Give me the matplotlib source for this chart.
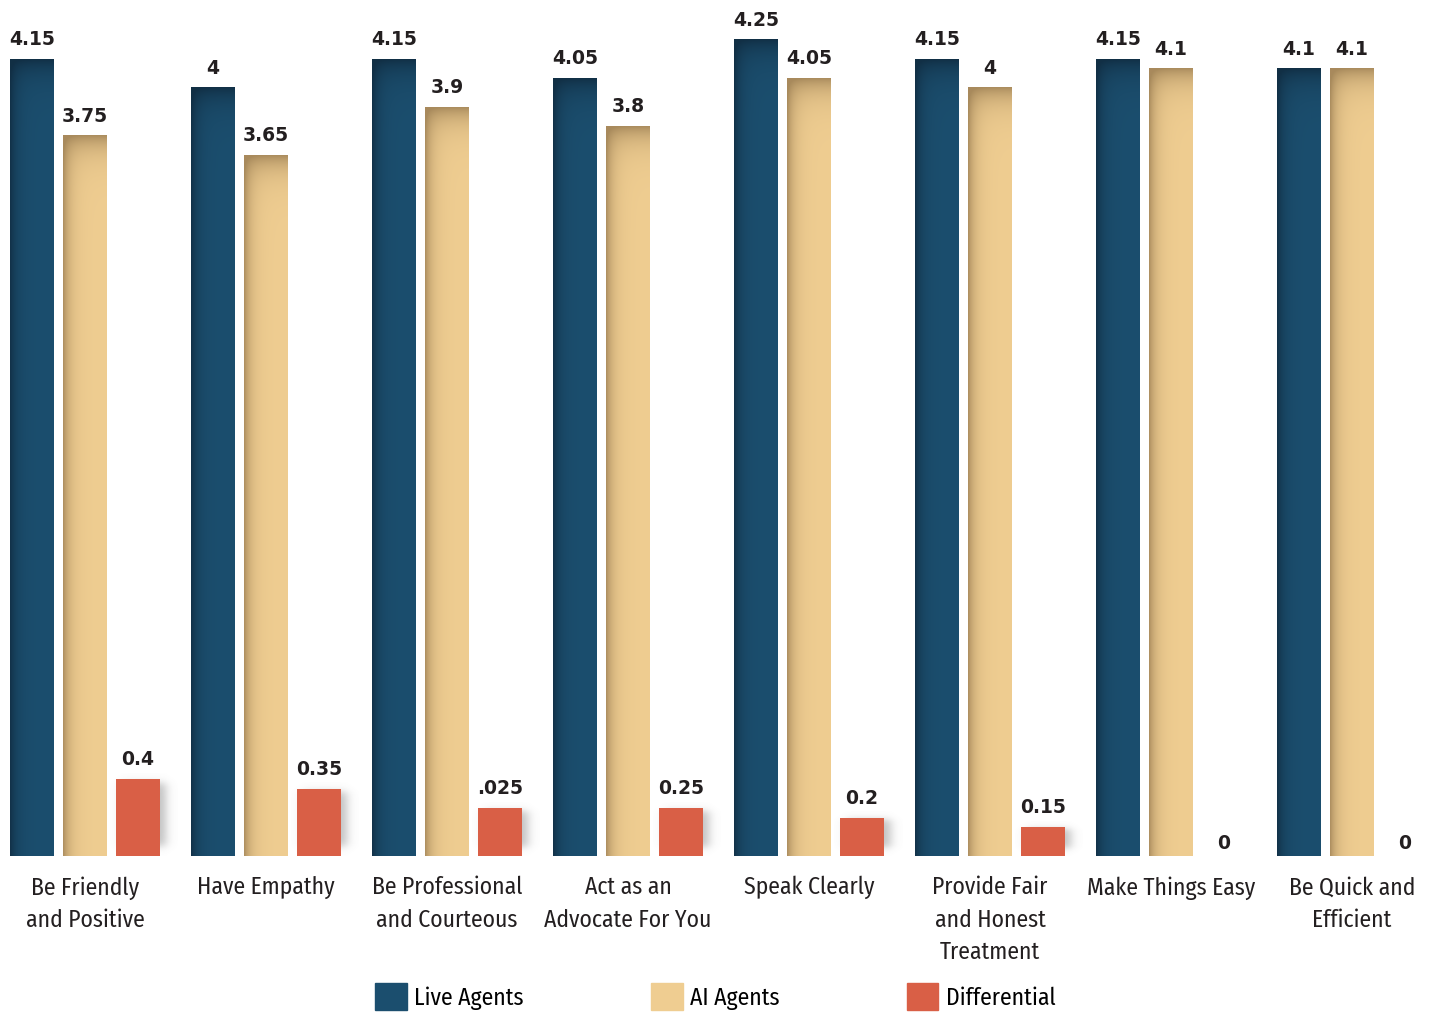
import numpy as np
import matplotlib.pyplot as plt
from matplotlib.patches import Rectangle, Patch
from matplotlib.colors import to_rgb

# Survey averages per behaviour
categories = ["Be Friendly\nand Positive", "Have Empathy", "Be Professional\nand Courteous",
              "Act as an\nAdvocate For You", "Speak Clearly", "Provide Fair\nand Honest\nTreatment",
              "Make Things Easy", "Be Quick and\nEfficient"]
live_agents = [4.15, 4.0, 4.15, 4.05, 4.25, 4.15, 4.15, 4.1]
ai_agents = [3.75, 3.65, 3.9, 3.8, 4.05, 4.0, 4.1, 4.1]
differential = [0.4, 0.35, 0.25, 0.25, 0.2, 0.15, 0.0, 0.0]

live_labels = ["4.15", "4", "4.15", "4.05", "4.25", "4.15", "4.15", "4.1"]
ai_labels = ["3.75", "3.65", "3.9", "3.8", "4.05", "4", "4.1", "4.1"]
diff_labels = ["0.4", "0.35", ".025", "0.25", "0.2", "0.15", "0", "0"]

BLUE = "#1b4e6e"
BEIGE = "#efcd91"
RED = "#d95f46"
TEXT = "#231f20"

W, H, DPI = 14.3, 10.13, 100
PX_PER_UNIT = 192.0      # vertical pixels per score point
STEP_PX = 181.0          # horizontal pixels per category group
BAR_W = 44 / STEP_PX
OFFSET = 53 / STEP_PX

NARROW = ["Fira Sans Condensed", "Roboto Condensed", "IBM Plex Sans Condensed", "DejaVu Sans"]
HEAVY = ["DejaVu Sans"]

fig = plt.figure(figsize=(W, H), dpi=DPI)
base_px = 856
ax = fig.add_axes([0, (H * DPI - base_px) / (H * DPI), 1, base_px / (H * DPI)])
ax.set_xlim(-85 / STEP_PX, (1430 - 85) / STEP_PX)
ax.set_ylim(0, base_px / PX_PER_UNIT)
ax.axis("off")


def shaded_bar(x0, height, color, edge_dark):
    """Fill a bar with a darker fade along its left and top edges."""
    if height <= 0:
        return
    rows = max(int(height * PX_PER_UNIT), 2)
    cols = 44
    base = np.array(to_rgb(color))
    dark = np.array(to_rgb(edge_dark))
    xx = np.arange(cols)[None, :]
    yy = np.arange(rows)[:, None]
    left = np.exp(-xx / 7.0)
    top = np.exp(-yy / 14.0)
    w = np.clip(left * 0.9 + top * 0.95 - left * top * 0.6, 0, 1)
    img = base[None, None, :] * (1 - w[..., None]) + dark[None, None, :] * w[..., None]
    ax.imshow(img, extent=(x0, x0 + BAR_W, 0, height), aspect="auto",
              origin="upper", interpolation="bilinear", zorder=2)


def soft_shadow(x0, height):
    """Blurred grey shadow offset down and to the right."""
    if height <= 0:
        return
    dx = 6 / STEP_PX
    dy = -6 / PX_PER_UNIT
    pad_x = 12 / STEP_PX
    pad_y = 12 / PX_PER_UNIT
    xa, xb = x0 + dx, x0 + BAR_W + dx
    ya, yb = dy, height + dy
    n = 120
    xs = np.linspace(xa - pad_x, xb + pad_x, n)
    ys = np.linspace(ya - pad_y, yb + pad_y, n)
    sx = 3.0 / STEP_PX
    sy = 3.0 / PX_PER_UNIT
    fx = 1 / (1 + np.exp(-(xs - xa) / sx)) * 1 / (1 + np.exp((xs - xb) / sx))
    fy = 1 / (1 + np.exp(-(ys - ya) / sy)) * 1 / (1 + np.exp((ys - yb) / sy))
    alpha = (fy[::-1, None] * fx[None, :]) * 0.45
    img = np.zeros((n, n, 4))
    img[..., :3] = 0.45
    img[..., 3] = alpha
    ax.imshow(img, extent=(xs[0], xs[-1], max(ys[0], 0), ys[-1]), aspect="auto",
              origin="upper", interpolation="bilinear", zorder=1)


val_font = dict(family=HEAVY, weight="bold", fontsize=13.5, color=TEXT)
for i in range(len(categories)):
    xl = i - OFFSET - BAR_W / 2
    xa = i - BAR_W / 2
    xd = i + OFFSET - BAR_W / 2
    shaded_bar(xl, live_agents[i], BLUE, "#112f45")
    shaded_bar(xa, ai_agents[i], BEIGE, "#a88a5c")
    soft_shadow(xd, differential[i])
    if differential[i] > 0:
        ax.add_patch(Rectangle((xd, 0), BAR_W, differential[i], color=RED, zorder=2, lw=0))
    pad = 10 / PX_PER_UNIT
    ax.text(xl + BAR_W / 2, live_agents[i] + pad, live_labels[i], ha="center", va="bottom", **val_font)
    ax.text(xa + BAR_W / 2, ai_agents[i] + pad, ai_labels[i], ha="center", va="bottom", **val_font)
    dpad = pad if differential[i] > 0 else 3 / PX_PER_UNIT
    ax.text(xd + BAR_W / 2, differential[i] + dpad, diff_labels[i], ha="center", va="bottom", **val_font)
    ax.text(i, -20 / PX_PER_UNIT, categories[i], ha="center", va="top",
            family=NARROW, fontsize=17, color=TEXT, linespacing=1.5, clip_on=False)

handles = [Patch(color=BLUE), Patch(color=BEIGE), Patch(color=RED)]
fig.legend(handles, ["Live Agents", "AI Agents", "Differential"], loc="lower center",
           bbox_to_anchor=(0.5, -0.018), ncol=3, frameon=False, handlelength=1.35, handleheight=1.35,
           handletextpad=0.3, columnspacing=5.4, prop=dict(family=NARROW, size=17))

fig.savefig("out.png", dpi=DPI)
